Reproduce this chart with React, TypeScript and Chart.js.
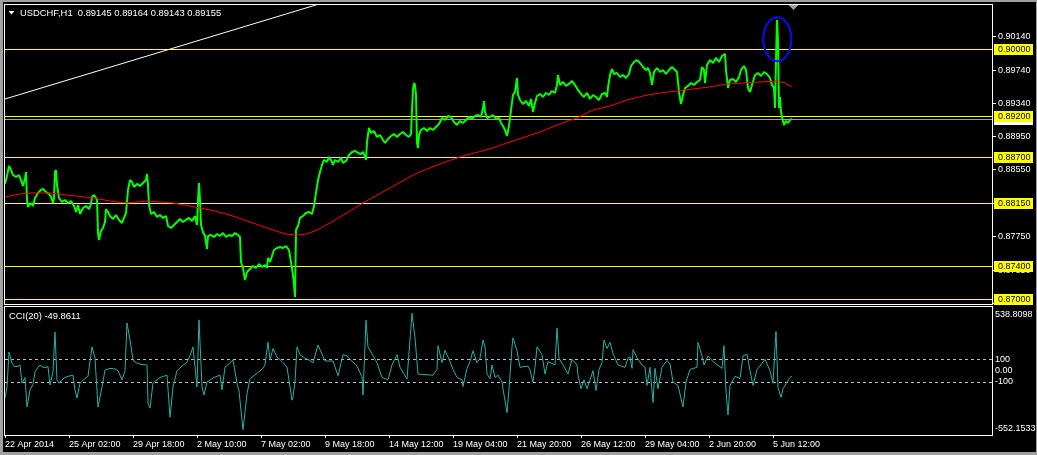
import { useEffect, useRef } from "react";
import { Chart, registerables } from "chart.js";

Chart.register(...registerables);

// ---------- text ----------
const symbolTitle = "USDCHF,H1";
const ohlcValues = ["0.89145", "0.89164", "0.89143", "0.89155"];
const cciTitle = "CCI(20) -49.8611";

// ---------- time axis (bar index -> label) ----------
const timeTickBars = [0, 64, 128, 192, 256, 320, 384, 448, 512, 576, 640, 704, 768];
const timeLabels = [
  "22 Apr 2014",
  "25 Apr 02:00",
  "29 Apr 18:00",
  "2 May 10:00",
  "7 May 02:00",
  "9 May 18:00",
  "14 May 12:00",
  "19 May 04:00",
  "21 May 20:00",
  "26 May 12:00",
  "29 May 04:00",
  "2 Jun 20:00",
  "5 Jun 12:00",
];
const visibleBars = 988;

// ---------- price panel ----------
const priceMin = 0.86944;
const priceMax = 0.90523;
const priceTicks = [0.9014, 0.8974, 0.8934, 0.8895, 0.8855, 0.8815, 0.8775, 0.8735, 0.8695];
const levelPrices = [0.9, 0.892, 0.887, 0.8815, 0.874, 0.87];
const bidPrice = 0.89155;
const shiftMarkerBar = 788;

// [bar, close]
const closeSeries: [number, number][] = [
  [0, 0.88381], [2, 0.88476], [4, 0.88596], [6, 0.88548], [8, 0.88488], [11, 0.88464], [14, 0.88488],
  [16, 0.88428], [18, 0.88357], [20, 0.88452], [21, 0.88524], [22, 0.88189], [23, 0.88105], [26, 0.88153],
  [28, 0.88117], [30, 0.88213], [33, 0.88273], [36, 0.88309], [38, 0.88321], [41, 0.88285], [44, 0.88261],
  [46, 0.88225], [48, 0.88153], [49, 0.88213], [50, 0.88524], [51, 0.88548], [52, 0.88369], [54, 0.88213],
  [57, 0.88165], [60, 0.88189], [63, 0.88153], [66, 0.88177], [69, 0.88117], [71, 0.88045], [73, 0.88129],
  [75, 0.88021], [78, 0.88093], [81, 0.88117], [84, 0.88081], [86, 0.88141], [87, 0.88225], [89, 0.88249],
  [91, 0.88213], [92, 0.88189], [93, 0.87794], [94, 0.8771], [96, 0.87818], [98, 0.87854], [100, 0.87926],
  [101, 0.88081], [103, 0.88045], [105, 0.87997], [108, 0.87962], [111, 0.88009], [114, 0.8795], [117, 0.87914],
  [119, 0.87974], [121, 0.88033], [123, 0.88309], [125, 0.88428], [127, 0.88404], [129, 0.88345], [132, 0.88381],
  [135, 0.88357], [138, 0.88392], [141, 0.88428], [142, 0.885], [143, 0.88369], [144, 0.88129], [146, 0.88021],
  [149, 0.88045], [152, 0.87986], [155, 0.88009], [158, 0.87974], [161, 0.87997], [163, 0.87878], [166, 0.87854],
  [169, 0.8789], [172, 0.87926], [175, 0.87962], [178, 0.87926], [181, 0.8795], [184, 0.87974], [187, 0.87938],
  [190, 0.87997], [192, 0.8789], [193, 0.88189], [194, 0.88392], [195, 0.88189], [196, 0.8789], [198, 0.87806],
  [200, 0.87758], [202, 0.87602], [203, 0.87758], [206, 0.8777], [209, 0.87746], [212, 0.87782], [215, 0.87758],
  [218, 0.87794], [221, 0.87746], [224, 0.8777], [227, 0.87758], [230, 0.87794], [233, 0.8777], [235, 0.87746],
  [236, 0.87447], [238, 0.87375], [240, 0.87231], [242, 0.87327], [245, 0.87363], [248, 0.87399], [251, 0.87375],
  [254, 0.87423], [257, 0.87387], [260, 0.87411], [262, 0.87375], [263, 0.87495], [265, 0.87447], [267, 0.87519],
  [269, 0.8759], [272, 0.87614], [275, 0.87626], [278, 0.87614], [281, 0.87638], [284, 0.8759], [286, 0.87447],
  [288, 0.87291], [289, 0.87172], [290, 0.87028], [291, 0.8783], [293, 0.87878], [295, 0.87974], [298, 0.87997],
  [301, 0.88033], [304, 0.88045], [307, 0.88021], [309, 0.88117], [311, 0.88273], [313, 0.88428], [315, 0.88524],
  [317, 0.88608], [319, 0.88668], [322, 0.88644], [324, 0.88704], [326, 0.88668], [328, 0.88608], [330, 0.88668],
  [333, 0.88644], [336, 0.88692], [338, 0.88632], [341, 0.88656], [344, 0.88728], [347, 0.88764], [350, 0.88776],
  [353, 0.88752], [356, 0.8874], [358, 0.88764], [360, 0.88704], [361, 0.88668], [362, 0.88883], [364, 0.89051],
  [366, 0.88991], [369, 0.89015], [372, 0.88943], [375, 0.88967], [378, 0.88907], [380, 0.88871], [383, 0.88919],
  [386, 0.88955], [389, 0.88979], [392, 0.88943], [395, 0.88979], [398, 0.89003], [401, 0.88967], [404, 0.88943],
  [406, 0.88979], [407, 0.89266], [408, 0.89506], [409, 0.89589], [410, 0.89566], [411, 0.89446], [412, 0.88871],
  [413, 0.88811], [414, 0.88967], [416, 0.89027], [419, 0.89051], [422, 0.89015], [425, 0.89051], [428, 0.89027],
  [431, 0.89063], [434, 0.89099], [437, 0.89171], [440, 0.89147], [443, 0.89194], [446, 0.89183], [449, 0.89123],
  [452, 0.89087], [455, 0.89135], [458, 0.89111], [461, 0.89147], [464, 0.89183], [467, 0.89159], [470, 0.89194],
  [473, 0.89206], [476, 0.89183], [478, 0.8929], [479, 0.89374], [480, 0.89242], [482, 0.89171], [485, 0.89183],
  [488, 0.89206], [491, 0.89159], [494, 0.89171], [496, 0.89111], [498, 0.89075], [500, 0.89027], [502, 0.88955],
  [504, 0.89075], [506, 0.89266], [508, 0.89446], [510, 0.89482], [512, 0.89649], [513, 0.89446], [515, 0.89386],
  [518, 0.89338], [521, 0.89374], [524, 0.89314], [526, 0.89398], [528, 0.89242], [530, 0.8935], [532, 0.89434],
  [535, 0.89458], [538, 0.89422], [541, 0.8947], [544, 0.89446], [547, 0.89494], [550, 0.8947], [552, 0.89566],
  [553, 0.89685], [555, 0.89566], [558, 0.89601], [561, 0.89554], [564, 0.89578], [567, 0.89613], [570, 0.89566],
  [573, 0.89506], [576, 0.89458], [579, 0.89422], [582, 0.8947], [585, 0.89398], [588, 0.89446], [591, 0.89422],
  [594, 0.89386], [597, 0.89458], [600, 0.8947], [602, 0.89422], [603, 0.8953], [605, 0.89685], [607, 0.89757],
  [609, 0.89697], [612, 0.89709], [615, 0.89661], [618, 0.89685], [621, 0.89649], [624, 0.89697], [626, 0.89793],
  [629, 0.89841], [632, 0.89865], [635, 0.89829], [638, 0.89781], [641, 0.89745], [643, 0.89769], [645, 0.89709],
  [647, 0.89566], [649, 0.89721], [652, 0.89769], [655, 0.89721], [658, 0.89745], [661, 0.89697], [664, 0.89745],
  [667, 0.89781], [670, 0.89745], [672, 0.89721], [674, 0.89482], [676, 0.89338], [678, 0.89446], [680, 0.8953],
  [683, 0.89554], [686, 0.89589], [689, 0.89566], [692, 0.89601], [695, 0.89625], [697, 0.89781], [699, 0.89745],
  [700, 0.89589], [702, 0.89805], [705, 0.89865], [708, 0.89829], [711, 0.89889], [714, 0.89841], [717, 0.89913],
  [720, 0.89937], [721, 0.89745], [723, 0.8953], [725, 0.89625], [728, 0.89637], [731, 0.89601], [734, 0.89661],
  [736, 0.89745], [739, 0.89793], [741, 0.89745], [743, 0.8953], [745, 0.89482], [747, 0.89566], [750, 0.89685],
  [753, 0.89709], [756, 0.89673], [759, 0.89721], [762, 0.89697], [765, 0.89649], [767, 0.89566], [769, 0.8953],
  [770, 0.8929], [771, 0.89865], [772, 0.90344], [773, 0.90104], [774, 0.8929], [775, 0.89422], [776, 0.89242],
  [777, 0.89183], [779, 0.89087], [781, 0.89135], [783, 0.89111], [785, 0.89147], [787, 0.89159],
];

// [bar, moving average]
const maSeries: [number, number][] = [
  [0, 0.88225], [15, 0.88261], [28, 0.88273], [45, 0.88273], [62, 0.88249], [88, 0.88213], [105, 0.88177],
  [122, 0.88153], [142, 0.88177], [168, 0.88153], [195, 0.88093], [210, 0.88057], [228, 0.87997], [245, 0.87926],
  [262, 0.87854], [280, 0.87782], [292, 0.8777], [302, 0.87782], [312, 0.8783], [325, 0.87914], [345, 0.88057],
  [358, 0.88153], [385, 0.88333], [412, 0.88512], [435, 0.8862], [458, 0.88716], [485, 0.888], [505, 0.88883],
  [535, 0.89003], [555, 0.89099], [572, 0.89171], [588, 0.89266], [605, 0.89314], [622, 0.89386], [638, 0.89434],
  [655, 0.8947], [672, 0.89494], [688, 0.89518], [705, 0.89542], [722, 0.89578], [738, 0.89589], [755, 0.89601],
  [772, 0.89613], [780, 0.89589], [787, 0.89542],
];

// [bar, price] of the drawn trend line
const trendSeries: [number, number][] = [
  [0, 0.89398],
  [400, 0.90846],
];

// highlighted spike (ellipse in data units)
const highlight = { bar: 772.3, price: 0.90113, barRadius: 14, priceRadius: 0.00263 };

// ---------- CCI panel ----------
const cciScaleMin = -567;
const cciScaleMax = 561;
const cciMaxLabel = "538.8098";
const cciMinLabel = "-552.1533";
const cciTicks = [100, 0, -100];
const cciLevels = [100, -100];

// [bar, CCI]
const cciSeries: [number, number][] = [
  [0, -241], [2, -144], [4, 164], [7, 67], [9, 40], [12, 35], [15, 50], [17, -110], [20, -60], [22, -320],
  [25, -170], [28, -120], [30, -10], [33, 30], [35, 50], [39, 25], [43, 35], [45, -126], [48, -12], [50, 340],
  [52, -82], [54, -110], [57, -80], [60, -60], [65, -45], [68, -40], [70, -170], [72, -240], [75, -110], [80, -70],
  [83, -50], [87, 210], [90, 110], [93, -320], [97, -144], [100, 5], [105, 20], [110, 15], [113, 0], [117, -80],
  [120, 0], [122, 420], [125, 270], [128, 95], [131, 70], [136, 55], [142, 50], [143, -285], [145, -330], [148, -110],
  [155, -60], [162, -40], [165, -410], [168, -144], [172, 0], [177, 40], [182, 75], [185, 130], [188, 210], [192, -144],
  [194, 447], [197, -144], [199, -214], [202, -100], [209, -60], [215, -40], [217, -170], [220, 30], [224, 60], [228, 95],
  [232, -110], [234, -180], [238, -520], [242, -205], [245, -70], [251, -30], [258, 20], [260, 50], [263, 250], [265, 95],
  [268, 195], [272, 120], [277, 80], [282, 30], [287, -260], [288, -230], [290, -100], [292, 210], [295, 140], [300, 110],
  [305, 90], [308, 70], [313, 225], [320, 85], [328, 85], [333, -45], [338, 140], [342, 130], [345, 100], [352, 40],
  [357, -55], [358, -215], [361, 445], [363, 210], [367, 150], [372, 70], [377, -60], [383, -80], [387, 50], [392, 140],
  [395, 30], [402, -75], [407, 505], [410, 290], [413, -30], [420, -35], [428, -40], [432, 10], [433, 220], [437, 70],
  [440, 180], [445, 80], [448, 10], [452, -60], [457, -80], [458, -140], [462, 20], [465, 80], [468, 175], [472, 70],
  [475, 110], [478, 270], [480, 210], [482, -30], [485, -70], [487, 50], [490, -60], [493, -40], [497, -100], [498, -160],
  [502, -370], [504, -160], [507, 210], [508, 290], [512, 175], [515, 30], [523, 40], [525, 5], [528, -100], [530, 30],
  [532, 210], [537, 140], [540, -30], [543, 80], [550, 50], [552, 375], [554, 110], [558, 50], [563, -30], [567, 100],
  [572, 50], [573, -40], [576, -160], [579, -80], [582, -160], [585, -80], [588, 0], [591, -175], [594, 10], [597, 70],
  [599, 270], [602, 195], [605, 250], [608, 150], [613, 50], [620, 30], [623, 110], [625, 120], [627, 20], [628, 185],
  [632, 115], [637, 50], [640, 30], [642, -130], [645, 30], [648, -280], [650, 20], [653, -160], [657, 30], [662, 90],
  [665, 60], [668, -100], [673, -130], [678, -320], [681, -100], [685, 10], [692, 30], [693, 250], [697, 130], [699, 50],
  [703, 130], [708, 80], [717, 20], [719, 220], [721, -180], [723, -390], [725, -130], [730, -50], [735, -70], [738, 130],
  [742, 145], [745, 0], [748, -130], [752, 10], [755, 40], [760, 100], [765, 0], [768, -110], [771, 345], [773, -150],
  [776, -235], [778, -160], [782, -100], [785, -60], [787, -50],
];

// ---------- styles ----------
const FONT_FAMILY = "'Liberation Sans', Arial, sans-serif";
const AXIS_FONT = { family: FONT_FAMILY, size: 9 };
const AXIS_FONT_CSS = `9px ${FONT_FAMILY}`;
const TEXT_FONT_CSS = `9.4px ${FONT_FAMILY}`;

const toXY = (s: [number, number][]) => s.map(([x, y]) => ({ x, y }));

const mainOverlay = {
  id: "mainOverlay",
  beforeDatasetsDraw(chart: any) {
    const { ctx, chartArea: a, scales } = chart;
    const y = scales.y;
    ctx.save();
    ctx.lineWidth = 1;
    const hline = (v: number, color: string) => {
      const py = Math.round(y.getPixelForValue(v)) + 0.5;
      ctx.strokeStyle = color;
      ctx.beginPath();
      ctx.moveTo(a.left, py);
      ctx.lineTo(a.right, py);
      ctx.stroke();
    };
    hline(bidPrice, "#a0a0a0");
    levelPrices.forEach((v) => hline(v, "#ffff00"));
    ctx.restore();
  },
  afterDraw(chart: any) {
    const { ctx, chartArea: a, scales } = chart;
    const x = scales.x;
    const y = scales.y;
    ctx.save();
    // highlight ellipse
    const cx = x.getPixelForValue(highlight.bar);
    const cy = y.getPixelForValue(highlight.price);
    const rx = Math.abs(x.getPixelForValue(highlight.bar + highlight.barRadius) - cx);
    const ry = Math.abs(y.getPixelForValue(highlight.price - highlight.priceRadius) - cy);
    ctx.strokeStyle = "#0a0aff";
    ctx.lineWidth = 2;
    ctx.beginPath();
    ctx.ellipse(cx, cy, rx, ry, 0, 0, Math.PI * 2);
    ctx.stroke();

    // frame
    ctx.strokeStyle = "#ffffff";
    ctx.lineWidth = 1;
    ctx.strokeRect(a.left - 0.5, a.top - 0.5, a.right - a.left, a.bottom - a.top + 1);

    // shift marker
    const sx = Math.round(x.getPixelForValue(shiftMarkerBar)) + 0.5;
    ctx.fillStyle = "#a0a0a0";
    ctx.beginPath();
    ctx.moveTo(sx - 5, a.top);
    ctx.lineTo(sx + 5, a.top);
    ctx.lineTo(sx, a.top + 5);
    ctx.closePath();
    ctx.fill();

    // header
    ctx.fillStyle = "#ffffff";
    ctx.beginPath();
    ctx.moveTo(8.5, 11);
    ctx.lineTo(14.5, 11);
    ctx.lineTo(11.5, 14.5);
    ctx.closePath();
    ctx.fill();
    ctx.font = TEXT_FONT_CSS;
    ctx.textBaseline = "middle";
    ctx.textAlign = "left";
    ctx.fillText(`${symbolTitle}  ${ohlcValues.join(" ")}`, 20, 13);

    // price labels on the axis
    ctx.font = AXIS_FONT_CSS;
    const box = (v: number, bg: string) => {
      const py = Math.round(y.getPixelForValue(v));
      ctx.fillStyle = bg;
      ctx.fillRect(a.right + 1, py - 5, 39, 11);
      ctx.fillStyle = "#000000";
      ctx.fillText(v.toFixed(5), a.right + 5, py + 0.5);
    };
    box(bidPrice, "#ffffff");
    levelPrices.forEach((v) => box(v, "#ffff00"));
    ctx.restore();
  },
};

const cciOverlay = {
  id: "cciOverlay",
  beforeDatasetsDraw(chart: any) {
    const { ctx, chartArea: a, scales } = chart;
    const y = scales.y;
    ctx.save();
    ctx.strokeStyle = "#c0c0c0";
    ctx.lineWidth = 1;
    ctx.setLineDash([3, 3]);
    cciLevels.forEach((v) => {
      const py = Math.round(y.getPixelForValue(v)) + 0.5;
      ctx.beginPath();
      ctx.moveTo(a.left, py);
      ctx.lineTo(a.right, py);
      ctx.stroke();
    });
    ctx.restore();
  },
  afterDraw(chart: any) {
    const { ctx, chartArea: a } = chart;
    ctx.save();
    ctx.strokeStyle = "#ffffff";
    ctx.lineWidth = 1;
    ctx.strokeRect(a.left - 0.5, a.top - 0.5, a.right - a.left, a.bottom - a.top + 1);
    ctx.fillStyle = "#ffffff";
    ctx.textBaseline = "middle";
    ctx.textAlign = "left";
    ctx.font = TEXT_FONT_CSS;
    ctx.fillText(cciTitle, 9, a.top + 9.5);
    ctx.font = AXIS_FONT_CSS;
    ctx.fillText(cciMaxLabel, a.right + 2, a.top + 8);
    ctx.fillText(cciMinLabel, a.right + 2, a.bottom - 6);
    ctx.restore();
  },
};

export default function App() {
  const mainRef = useRef<HTMLCanvasElement>(null);
  const cciRef = useRef<HTMLCanvasElement>(null);

  useEffect(() => {
    document.body.style.margin = "0";
    document.body.style.background = "#000";

    const main = new Chart(mainRef.current as HTMLCanvasElement, {
      type: "line",
      data: {
        datasets: [
          {
            data: toXY(trendSeries),
            borderColor: "#ffffff",
            borderWidth: 1,
            pointRadius: 0,
          },
          {
            data: toXY(maSeries),
            borderColor: "#ff0000",
            borderWidth: 1,
            pointRadius: 0,
          },
          {
            data: toXY(closeSeries),
            borderColor: "#00ff00",
            borderWidth: 2,
            borderJoinStyle: "bevel",
            pointRadius: 0,
          },
        ],
      },
      options: {
        animation: false,
        responsive: false,
        maintainAspectRatio: false,
        events: [],
        layout: { padding: { left: 5, top: 5, right: 0, bottom: 1 } },
        scales: {
          x: { type: "linear", min: 0, max: visibleBars, display: false },
          y: {
            type: "linear",
            position: "right",
            min: priceMin,
            max: priceMax,
            afterBuildTicks: (s: any) => {
              s.ticks = priceTicks.map((value) => ({ value }));
            },
            afterFit: (s: any) => {
              s.width = 44;
              s.paddingTop = 0;
              s.paddingBottom = 0;
            },
            ticks: {
              color: "#ffffff",
              font: AXIS_FONT,
              padding: 2,
              autoSkip: false,
              callback: (v: any) => Number(v).toFixed(5),
            },
            grid: { drawOnChartArea: false, drawTicks: true, tickLength: 3, tickColor: "#ffffff" },
            border: { display: false },
          },
        },
        plugins: { legend: { display: false }, tooltip: { enabled: false }, title: { display: false } },
      } as any,
      plugins: [mainOverlay],
    });

    const cci = new Chart(cciRef.current as HTMLCanvasElement, {
      type: "line",
      data: {
        datasets: [
          {
            data: toXY(cciSeries),
            borderColor: "#20b2aa",
            borderWidth: 1,
            pointRadius: 0,
          },
        ],
      },
      options: {
        animation: false,
        responsive: false,
        maintainAspectRatio: false,
        events: [],
        layout: { padding: { left: 5, top: 2, right: 0, bottom: 0 } },
        scales: {
          x: {
            type: "linear",
            position: "bottom",
            min: 0,
            max: visibleBars,
            afterBuildTicks: (s: any) => {
              s.ticks = timeTickBars.map((value) => ({ value }));
            },
            afterFit: (s: any) => {
              s.height = 20;
              s.paddingLeft = 0;
              s.paddingRight = 0;
            },
            ticks: {
              color: "#ffffff",
              font: AXIS_FONT,
              padding: 1,
              align: "start",
              maxRotation: 0,
              minRotation: 0,
              autoSkip: false,
              callback: (_v: any, i: number) => timeLabels[i],
            },
            grid: { drawOnChartArea: false, drawTicks: true, tickLength: 3, tickColor: "#ffffff" },
            border: { display: false },
          },
          y: {
            type: "linear",
            position: "right",
            min: cciScaleMin,
            max: cciScaleMax,
            afterBuildTicks: (s: any) => {
              s.ticks = cciTicks.map((value) => ({ value }));
            },
            afterFit: (s: any) => {
              s.width = 44;
              s.paddingTop = 0;
              s.paddingBottom = 0;
            },
            ticks: {
              color: "#ffffff",
              font: AXIS_FONT,
              padding: 2,
              autoSkip: false,
              callback: (v: any) => (Number(v) === 0 ? "0.00" : String(v)),
            },
            grid: { drawOnChartArea: false, drawTicks: false },
            border: { display: false },
          },
        },
        plugins: { legend: { display: false }, tooltip: { enabled: false }, title: { display: false } },
      } as any,
      plugins: [cciOverlay],
    });

    return () => {
      main.destroy();
      cci.destroy();
    };
  }, []);

  const strip = (s: React.CSSProperties): React.CSSProperties => ({
    position: "absolute",
    background: "#a0a0a0",
    ...s,
  });

  return (
    <div
      style={{
        position: "fixed",
        left: 0,
        top: 0,
        width: 1037,
        height: 455,
        background: "#000000",
        overflow: "hidden",
      }}
    >
      <canvas
        ref={mainRef}
        width={1037}
        height={305}
        style={{ position: "absolute", left: 0, top: 0, width: 1037, height: 305, display: "block" }}
      />
      <canvas
        ref={cciRef}
        width={1037}
        height={150}
        style={{ position: "absolute", left: 0, top: 305, width: 1037, height: 150, display: "block" }}
      />
      <div style={strip({ left: 0, top: 0, width: 1037, height: 2 })} />
      <div style={strip({ left: 0, top: 0, width: 3, height: 455 })} />
      <div style={strip({ left: 0, top: 452, width: 1037, height: 3 })} />
      <div style={strip({ left: 1036, top: 0, width: 1, height: 455 })} />
    </div>
  );
}
